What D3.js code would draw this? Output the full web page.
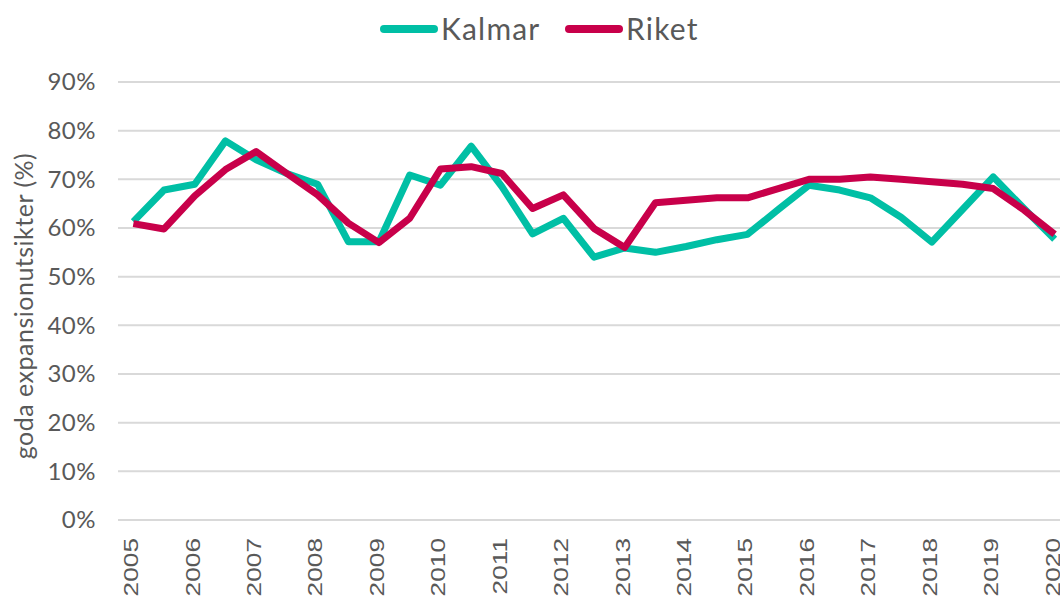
<!DOCTYPE html>
<html>
<head>
<meta charset="utf-8">
<script src="https://cdn.jsdelivr.net/npm/d3@7"></script>
<style>
  body { margin: 0; background: #fff; }
  svg { display: block; }
</style>
</head>
<body>
<div class="canvas"></div>
<script>
// half-year periods, 2005 H1 .. 2020 H1
const periods = [
  "2005 H1", "2005 H2", "2006 H1", "2006 H2", "2007 H1", "2007 H2",
  "2008 H1", "2008 H2", "2009 H1", "2009 H2", "2010 H1", "2010 H2",
  "2011 H1", "2011 H2", "2012 H1", "2012 H2", "2013 H1", "2013 H2",
  "2014 H1", "2014 H2", "2015 H1", "2015 H2", "2016 H1", "2016 H2",
  "2017 H1", "2017 H2", "2018 H1", "2018 H2", "2019 H1", "2019 H2",
  "2020 H1"
];
const kalmar = [
  61.3, 67.8, 69.0, 77.9, 74.0, 71.2, 69.0, 57.2, 57.2, 70.9, 68.8, 76.8,
  68.5, 58.8, 62.0, 54.0, 55.9, 55.0, 56.2, 57.6, 58.7, 63.8, 68.8, 67.8,
  66.2, 62.2, 57.1, 63.8, 70.5, 64.0, 57.7
];
const riket = [
  60.9, 59.8, 66.6, 72.0, 75.7, 71.2, 66.8, 61.0, 57.0, 62.0, 72.1, 72.6,
  71.2, 64.0, 66.8, 59.9, 56.0, 65.2, 65.7, 66.2, 66.2, 68.1, 70.0, 70.0,
  70.5, 70.0, 69.5, 69.0, 68.1, 63.7, 58.7
];
const yTicks = [0, 10, 20, 30, 40, 50, 60, 70, 80, 90];
const seriesNames = ["Kalmar", "Riket"];
const colors = ["#00BFA5", "#C8004A"];

const width = 1060;
const height = 597;

const svg = d3
  .select(".canvas")
  .append("svg")
  .attr("width", width)
  .attr("height", height);

const x = d3.scalePoint().domain(periods).range([118, 1070]).padding(0.5);
const y = d3.scaleLinear().domain([0, 90]).range([520, 82]);

// gridlines
svg
  .append("g")
  .selectAll("line")
  .data(yTicks)
  .enter()
  .append("line")
  .attr("x1", 118)
  .attr("x2", 1070)
  .attr("y1", (d) => y(d))
  .attr("y2", (d) => y(d))
  .attr("stroke", "#D9D9D9")
  .attr("stroke-width", 2);

// y axis
const yAxisGroup = svg.append("g").attr("transform", "translate(96,0)");
yAxisGroup.call(
  d3.axisLeft(y).tickValues(yTicks).tickSize(0).tickPadding(0).tickFormat((d) => d + "%")
);
yAxisGroup.select(".domain").remove();
yAxisGroup
  .selectAll("text")
  .attr("font-family", "Lato")
  .attr("font-size", 24)
  .attr("letter-spacing", 0.5)
  .attr("fill", "#595959");

// x axis: label only the first half of each year
const xAxisGroup = svg.append("g").attr("transform", "translate(0,528)");
xAxisGroup.call(
  d3
    .axisBottom(x)
    .tickValues(periods.filter((p) => p.endsWith("H1")))
    .tickSize(0)
    .tickFormat((d) => d.slice(0, 4))
);
xAxisGroup.select(".domain").remove();
xAxisGroup
  .selectAll("text")
  .attr("font-family", "Liberation Sans")
  .attr("font-size", 21)
  .attr("fill", "#595959")
  .attr("text-anchor", "end")
  .attr("transform", "rotate(-90) scale(1.25,1)")
  .attr("x", -8)
  .attr("y", -3)
  .attr("dy", "0.35em");

// axis title
svg
  .append("text")
  .text("goda expansionutsikter (%)")
  .attr("transform", "translate(33,306) rotate(-90)")
  .attr("text-anchor", "middle")
  .attr("font-family", "Lato")
  .attr("font-size", 25)
  .attr("letter-spacing", 0.5)
  .attr("fill", "#595959");

// lines
const line = d3
  .line()
  .x((d, i) => x(periods[i]))
  .y((d) => y(d));

[kalmar, riket].forEach((values, i) => {
  svg
    .append("path")
    .datum(values)
    .attr("d", line)
    .attr("fill", "none")
    .attr("stroke", colors[i])
    .attr("stroke-width", 7)
    .attr("stroke-linejoin", "round");
});

// legend
const legend = svg.append("g").attr("transform", "translate(0,29)");
const legendX = [384, 569];
seriesNames.forEach((name, i) => {
  legend
    .append("line")
    .attr("x1", legendX[i])
    .attr("x2", legendX[i] + 50)
    .attr("stroke", colors[i])
    .attr("stroke-width", 8)
    .attr("stroke-linecap", "round");
  legend
    .append("text")
    .text(name)
    .attr("x", legendX[i] + 57)
    .attr("dy", "0.35em")
    .attr("font-family", "Lato")
    .attr("font-size", 30)
    .attr("letter-spacing", 1.2)
    .attr("fill", "#595959");
});
</script>
</body>
</html>
